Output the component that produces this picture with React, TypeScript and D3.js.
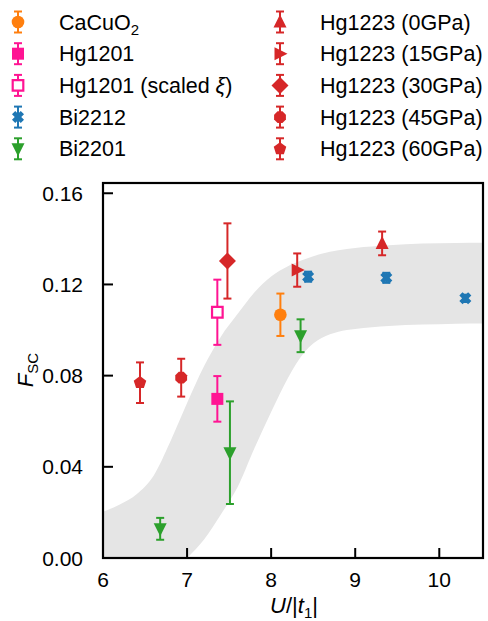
import React, { useEffect, useRef } from 'react';
import * as d3 from 'd3';

// series, in legend order
const labels = [
  "CaCuO2", "Hg1201", "Hg1201 (scaled ξ)", "Bi2212", "Bi2201",
  "Hg1223 (0GPa)", "Hg1223 (15GPa)", "Hg1223 (30GPa)", "Hg1223 (45GPa)", "Hg1223 (60GPa)",
];
const colors = [
  "#ff7f0e", "#ff1493", "#ff1493", "#1f77b4", "#2ca02c",
  "#d62728", "#d62728", "#d62728", "#d62728", "#d62728",
];
const markers = [
  "circle", "square", "openSquare", "xFilled", "triDown",
  "triUp", "triRight", "diamond", "octagon", "pentagon",
];
const uValues = [
  [8.11], [7.36], [7.36], [8.44, 9.37, 10.31], [6.68, 7.51, 8.35],
  [9.32], [8.31], [7.48], [6.93], [6.44],
];
const fscValues = [
  [0.1067], [0.0698], [0.1078], [0.1234, 0.1229, 0.1139], [0.0128, 0.0462, 0.0975],
  [0.138], [0.1263], [0.1303], [0.0791], [0.0769],
];
const fscErrors = [
  [0.0093], [0.01], [0.0143], [0.0022, 0.0022, 0.0016], [0.0048, 0.0225, 0.0072],
  [0.0052], [0.0073], [0.0165], [0.0083], [0.0089],
];

// grey band edges
const bandU = [6.0, 6.2, 6.4, 6.6, 6.8, 7.0, 7.2, 7.4, 7.6, 7.8, 8.0, 8.2, 8.4, 8.6, 8.8, 9.0, 9.4, 9.8, 10.2, 10.52];
const bandUpper = [0.0203, 0.0235, 0.028, 0.036, 0.051, 0.068, 0.084, 0.097, 0.107, 0.1165, 0.1235, 0.128, 0.131, 0.1335, 0.135, 0.136, 0.1372, 0.138, 0.1382, 0.1383];
const bandLower = [-0.02, -0.019, -0.017, -0.013, -0.007, 0.0, 0.008, 0.019, 0.031, 0.048, 0.064, 0.079, 0.0905, 0.0965, 0.0993, 0.1005, 0.1018, 0.1024, 0.1028, 0.1029];

const xTicks = [6, 7, 8, 9, 10];
const yTicks = [0, 0.04, 0.08, 0.12, 0.16];

const FONT = "'Liberation Sans', Arial, Helvetica, sans-serif";

function polygon(n: number, r: number, rot: number) {
  const pts = d3.range(n).map(i => {
    const a = rot + (i * 2 * Math.PI) / n;
    return [r * Math.sin(a), -r * Math.cos(a)];
  });
  return "M" + pts.map(p => p.join(",")).join("L") + "Z";
}

// filled "X": a thick plus sign turned by 45 degrees
function xPath(L: number, t: number) {
  const pts = [[t, L], [t, t], [L, t], [L, -t], [t, -t], [t, -L], [-t, -L], [-t, -t], [-L, -t], [-L, t], [-t, t], [-t, L]];
  const c = Math.SQRT1_2;
  return "M" + pts.map(([a, b]) => [(a - b) * c, (a + b) * c].join(",")).join("L") + "Z";
}

function markerPath(kind: string) {
  switch (kind) {
    case "circle": return d3.symbol(d3.symbolCircle, Math.PI * 6.3 * 6.3)()!;
    case "square": return "M-6,-6L6,-6L6,6L-6,6Z";
    case "openSquare": return "M-5.3,-5.3L5.3,-5.3L5.3,5.3L-5.3,5.3Z";
    case "xFilled": return xPath(6.2, 2.3);
    case "triDown": return "M0,7.5L-6.5,-5.5L6.5,-5.5Z";
    case "triUp": return "M0,-7.5L-6.5,5.5L6.5,5.5Z";
    case "triRight": return "M7.5,0L-5.5,-6.5L-5.5,6.5Z";
    case "diamond": return "M0,-8.5L8.5,0L0,8.5L-8.5,0Z";
    case "octagon": return polygon(8, 6.4, Math.PI / 8);
    case "pentagon": return polygon(5, 6.6, 0);
  }
  return "";
}

function drawMarker(g: d3.Selection<SVGGElement, unknown, null, undefined>, kind: string, color: string, x: number, y: number, top: number, bot: number) {
  g.append("line").attr("x1", x).attr("x2", x).attr("y1", top).attr("y2", bot)
    .attr("stroke", color).attr("stroke-width", 2);
  [top, bot].forEach(cy => {
    g.append("line").attr("x1", x - 4).attr("x2", x + 4).attr("y1", cy).attr("y2", cy)
      .attr("stroke", color).attr("stroke-width", 2);
  });
  const p = g.append("path").attr("d", markerPath(kind))
    .attr("transform", `translate(${x},${y})`);
  if (kind === "openSquare") {
    p.attr("fill", "white").attr("stroke", color).attr("stroke-width", 2.2);
  } else {
    p.attr("fill", color);
  }
}

function addLabel(t: d3.Selection<SVGTextElement, unknown, null, undefined>, label: string) {
  if (label === "CaCuO2") {
    t.append("tspan").text("CaCuO");
    t.append("tspan").attr("font-size", 15).attr("dy", 5).text("2");
  } else if (label.includes("ξ")) {
    const [a, b] = label.split("ξ");
    t.append("tspan").text(a);
    t.append("tspan").attr("font-style", "italic").text("ξ");
    t.append("tspan").text(b);
  } else {
    t.text(label);
  }
}

export default function App() {
  const svgRef = useRef<SVGSVGElement | null>(null);

  useEffect(() => {
    if (!svgRef.current) return;
    const svg = d3.select(svgRef.current);
    svg.selectAll("*").remove();

    const left = 103, right = 483, top = 183, bottom = 558;
    const x = d3.scaleLinear().domain([6, 10.52]).range([left, right]);
    const y = d3.scaleLinear().domain([0, 0.1645]).range([bottom, top]);

    svg.append("defs").append("clipPath").attr("id", "plotclip")
      .append("rect").attr("x", left).attr("y", top).attr("width", right - left).attr("height", bottom - top);

    // grey band
    const area = d3.area<number>()
      .x((_, i) => x(bandU[i]))
      .y0((_, i) => y(bandLower[i]))
      .y1(d => y(d))
      .curve(d3.curveMonotoneX);
    svg.append("path").datum(bandUpper).attr("d", area)
      .attr("fill", "#e5e5e5").attr("clip-path", "url(#plotclip)");

    // ticks (inward)
    const axes = svg.append("g").attr("stroke", "black").attr("stroke-width", 2);
    xTicks.forEach(t => {
      axes.append("line").attr("x1", x(t)).attr("x2", x(t)).attr("y1", bottom).attr("y2", bottom - 10);
    });
    yTicks.forEach(t => {
      axes.append("line").attr("x1", left).attr("x2", left + 10).attr("y1", y(t)).attr("y2", y(t));
    });

    // data
    const data = svg.append("g").attr("clip-path", "url(#plotclip)");
    labels.forEach((_, si) => {
      uValues[si].forEach((u, j) => {
        const v = fscValues[si][j];
        const e = fscErrors[si][j];
        drawMarker(data, markers[si], colors[si], x(u), y(v), y(v + e), y(v - e));
      });
    });

    // frame
    svg.append("rect").attr("x", left).attr("y", top).attr("width", right - left).attr("height", bottom - top)
      .attr("fill", "none").attr("stroke", "black").attr("stroke-width", 2.2);

    const txt = svg.append("g").attr("font-family", FONT).attr("font-size", 21).attr("fill", "black");
    xTicks.forEach(t => {
      txt.append("text").attr("x", x(t)).attr("y", 587).attr("text-anchor", "middle").text(String(t));
    });
    yTicks.forEach(t => {
      txt.append("text").attr("x", 83).attr("y", y(t) + 7.5).attr("text-anchor", "end").text(t.toFixed(2));
    });

    // axis titles
    const xt = txt.append("text").attr("x", 294).attr("y", 613).attr("text-anchor", "middle").attr("font-size", 22);
    xt.append("tspan").attr("font-style", "italic").text("U");
    xt.append("tspan").text("/|");
    xt.append("tspan").attr("font-style", "italic").text("t");
    xt.append("tspan").attr("font-size", 15).attr("dy", 5).text("1");
    xt.append("tspan").attr("dy", -5).text("|");

    const yt = txt.append("text").attr("transform", "translate(33,370) rotate(-90)").attr("text-anchor", "middle").attr("font-size", 22);
    yt.append("tspan").attr("font-style", "italic").text("F");
    yt.append("tspan").attr("font-size", 15).attr("dy", 5).text("SC");

    // legend
    const leg = svg.append("g");
    labels.forEach((label, i) => {
      const col = i < 5 ? 0 : 1;
      const row = i % 5;
      const mx = col === 0 ? 18 : 280;
      const cy = 22 + row * 31.7;
      drawMarker(leg, markers[i], colors[i], mx, cy, cy - 10.5, cy + 10.5);
      const t = txt.append("text").attr("x", col === 0 ? 59 : 320).attr("y", cy + 7.5).attr("font-size", 21.5);
      addLabel(t, label);
    });
  }, []);

  return (
    <svg ref={svgRef} width={488} height={621} style={{ display: "block", position: "absolute", left: 0, top: 0 }} />
  );
}
